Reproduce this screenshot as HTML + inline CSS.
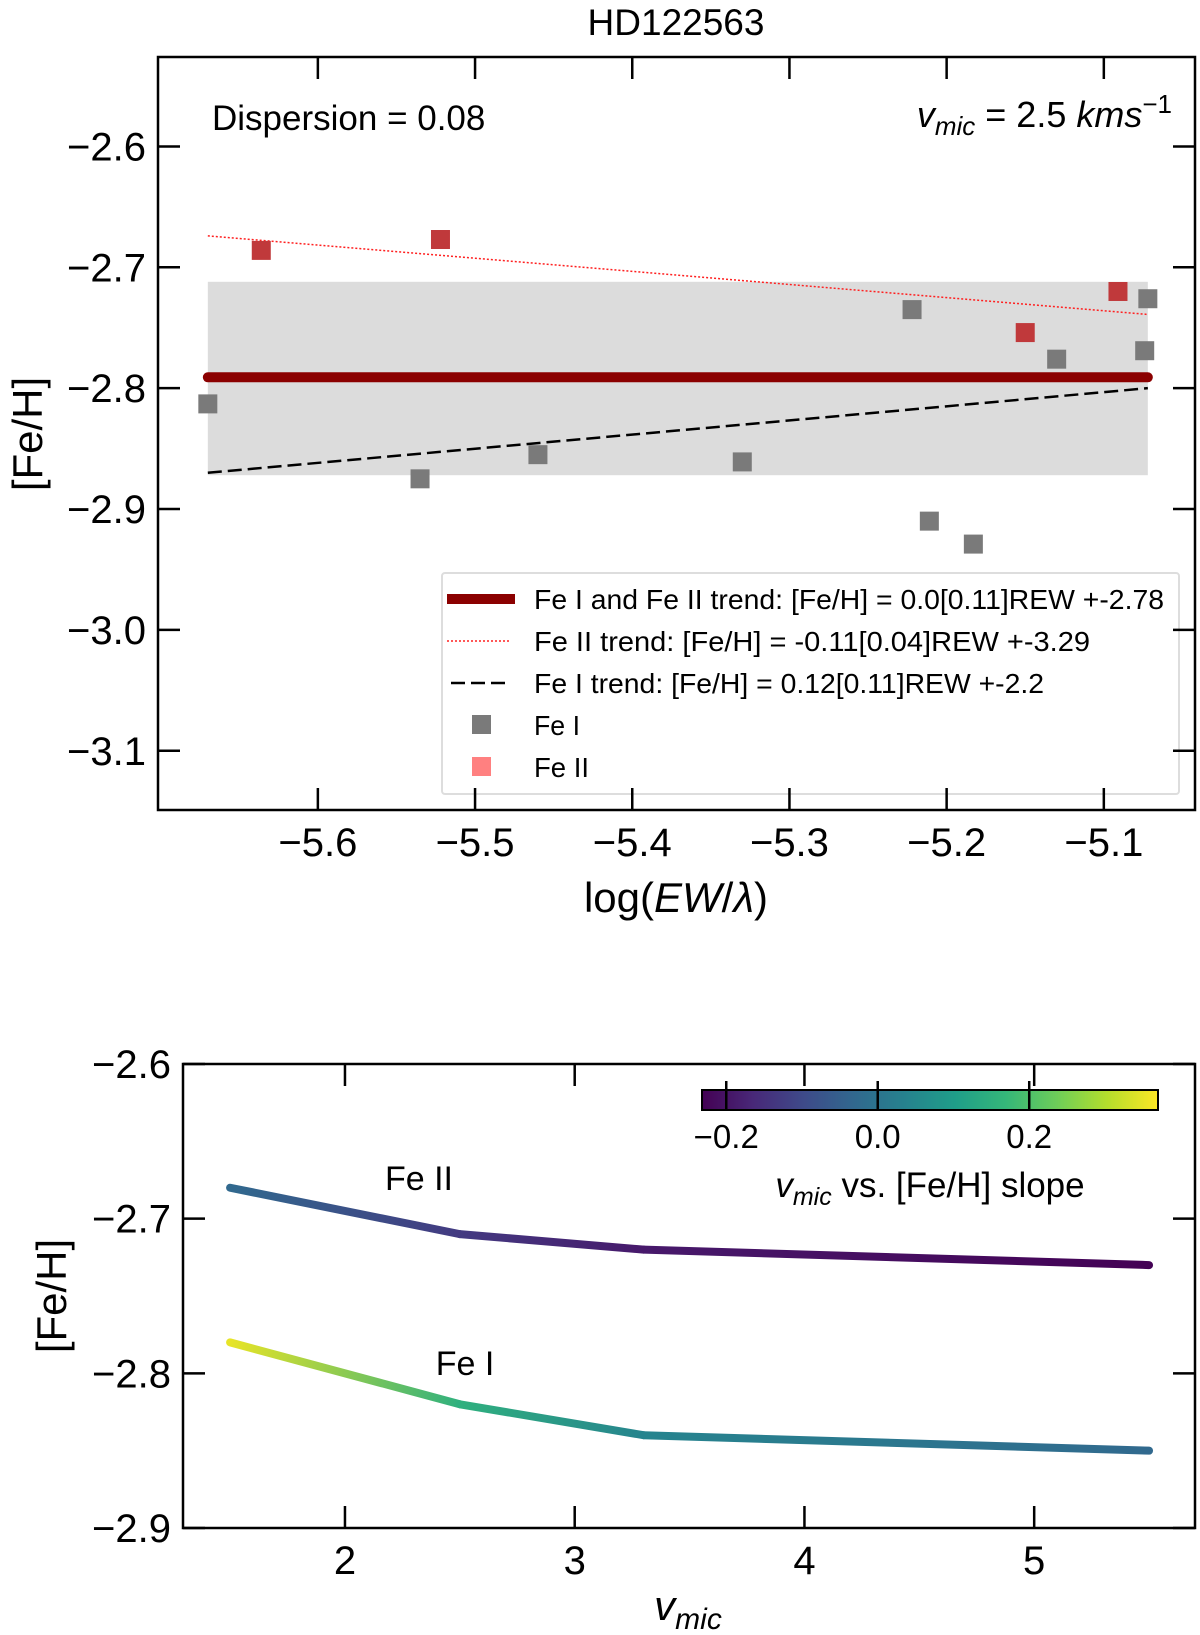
<!DOCTYPE html>
<html><head><meta charset="utf-8"><style>
html,body{margin:0;padding:0;background:#fff;}
svg{display:block;font-family:"Liberation Sans","DejaVu Sans",sans-serif;}
</style></head><body>
<svg id="fig" width="1200" height="1635" viewBox="0 0 1200 1635" xmlns="http://www.w3.org/2000/svg">
<defs id="defs"></defs>
</svg>
<script>
// ---------- Top panel data ----------
const feIx = [-5.67, -5.535, -5.46, -5.33, -5.222, -5.211, -5.183, -5.13, -5.072, -5.074];
const feIy = [-2.813, -2.875, -2.855, -2.861, -2.735, -2.910, -2.929, -2.776, -2.726, -2.769];
const feIIx = [-5.636, -5.522, -5.150, -5.091];
const feIIy = [-2.686, -2.677, -2.754, -2.720];
const trendX = [-5.67, -5.072];
const trendAll = [-2.791, -2.791];
const trendFeII = [-2.674, -2.739];
const trendFeI = [-2.870, -2.800];
const bandY = [-2.712, -2.872];
const topXTicks = [-5.6, -5.5, -5.4, -5.3, -5.2, -5.1];
const topYTicks = [-2.6, -2.7, -2.8, -2.9, -3.0, -3.1];
// ---------- Bottom panel data ----------
const vmic = [1.5, 2.5, 3.3, 5.5];
const feIIcurve = [-2.68, -2.71, -2.72, -2.73];
const feIcurve = [-2.78, -2.82, -2.84, -2.85];
const feIIslope = [-0.03, -0.13, -0.19, -0.23];
const feIslope = [0.35, 0.15, 0.04, -0.03];
const botXTicks = [2, 3, 4, 5];
const botYTicks = [-2.6, -2.7, -2.8, -2.9];
const cbTicks = [-0.2, 0.0, 0.2];

const NS = "http://www.w3.org/2000/svg";
const svg = document.getElementById('fig');
const defs = document.getElementById('defs');
function mk(tag, attrs, parent) {
  const e = document.createElementNS(NS, tag);
  for (const k in attrs) e.setAttribute(k, attrs[k]);
  (parent || svg).appendChild(e);
  return e;
}
function fmt(v, d) { const s = Math.abs(v).toFixed(d); return (v < 0 ? '\u2212' : '') + s; }

const vir = [[68,1,84],[72,40,120],[62,74,137],[49,104,142],[38,130,142],[31,158,137],[53,183,121],[109,205,89],[180,222,44],[253,231,37]];
function viridis(t) {
  t = Math.max(0, Math.min(1, t));
  const p = t * (vir.length - 1), i = Math.min(Math.floor(p), vir.length - 2), f = p - i;
  const c = vir[i].map((a, k) => Math.round(a + (vir[i + 1][k] - a) * f));
  return 'rgb(' + c.join(',') + ')';
}
const cbMin = -0.232, cbMax = 0.37;
function slopeColor(s) { return viridis((s - cbMin) / (cbMax - cbMin)); }

// ---------- Top axes ----------
const T = {l: 158, r: 1195, t: 57, b: 810, x0: -5.7017, x1: -5.042, y0: -3.149, y1: -2.526};
const tx = v => T.l + (v - T.x0) / (T.x1 - T.x0) * (T.r - T.l);
const ty = v => T.b - (v - T.y0) / (T.y1 - T.y0) * (T.b - T.t);

let e = mk('text', {x: 676, y: 35, 'font-size': 37, 'text-anchor': 'middle'});
e.textContent = 'HD122563';



e = mk('rect', {x: tx(trendX[0]), y: ty(bandY[0]), width: tx(trendX[1]) - tx(trendX[0]), height: ty(bandY[1]) - ty(bandY[0]), fill: '#dcdcdc'});



e = mk('line', {x1: tx(trendX[0]), x2: tx(trendX[1]), y1: ty(trendFeII[0]), y2: ty(trendFeII[1]), stroke: '#ff2020', 'stroke-width': 1.5, 'stroke-dasharray': '2,2'});


e = mk('line', {x1: tx(trendX[0]), x2: tx(trendX[1]), y1: ty(trendFeI[0]), y2: ty(trendFeI[1]), stroke: '#000', 'stroke-width': 2.5, 'stroke-dasharray': '14,6'});


e = mk('line', {x1: tx(trendX[0]), x2: tx(trendX[1]), y1: ty(trendAll[0]), y2: ty(trendAll[1]), stroke: '#8b0000', 'stroke-width': 10, 'stroke-linecap': 'round'});



const ms = 19;
feIx.forEach((x, i) => {
  const r = mk('rect', {x: tx(x) - ms / 2, y: ty(feIy[i]) - ms / 2, width: ms, height: ms, fill: '#7a7a7a'});
  
  
});
feIIx.forEach((x, i) => {
  const r = mk('rect', {x: tx(x) - ms / 2, y: ty(feIIy[i]) - ms / 2, width: ms, height: ms, fill: '#c0393b'});
  
  
});

// legend
const lg = mk('g', {});


mk('rect', {x: 442, y: 573, width: 737, height: 221, fill: 'rgba(255,255,255,0.8)', stroke: '#ddd', 'stroke-width': 2, rx: 3}, lg);
const rows = [
  ['line', 'Fe I and Fe II trend:  [Fe/H] = 0.0[0.11]REW +-2.78', 'legend-entry-combined-trend'],
  ['dot', 'Fe II trend:  [Fe/H] = -0.11[0.04]REW +-3.29', 'legend-entry-fe-ii-trend'],
  ['dash', 'Fe I trend: [Fe/H] = 0.12[0.11]REW +-2.2', 'legend-entry-fe-i-trend'],
  ['gray', 'Fe I', 'legend-entry-fe-i'],
  ['pink', 'Fe II', 'legend-entry-fe-ii']
];
const rowY = [599, 641, 683, 725, 767];
rows.forEach((r, i) => {
  const g = mk('g', {}, lg);
  
  
  const y = rowY[i];
  if (r[0] === 'line') mk('line', {x1: 447, x2: 515, y1: y, y2: y, stroke: '#8b0000', 'stroke-width': 10}, g);
  if (r[0] === 'dot') mk('line', {x1: 447, x2: 509, y1: y, y2: y, stroke: '#ff2020', 'stroke-width': 1.5, 'stroke-dasharray': '2,2'}, g);
  if (r[0] === 'dash') mk('line', {x1: 451, x2: 509, y1: y, y2: y, stroke: '#000', 'stroke-width': 2.5, 'stroke-dasharray': '14,6'}, g);
  if (r[0] === 'gray') mk('rect', {x: 472, y: y - 10, width: 19, height: 19, fill: '#7a7a7a'}, g);
  if (r[0] === 'pink') mk('rect', {x: 472, y: y - 10, width: 19, height: 19, fill: '#ff8080'}, g);
  const t = mk('text', {x: 534, y: y + 10, 'font-size': 28}, g);
  t.setAttribute('textLength', [630, 556, 510, 46, 55][i]);
  t.setAttribute('lengthAdjust', 'spacingAndGlyphs');
  t.textContent = r[1];
});

// top frame & ticks
e = mk('rect', {x: T.l, y: T.t, width: T.r - T.l, height: T.b - T.t, fill: 'none', stroke: '#000', 'stroke-width': 2.5});


topXTicks.forEach(v => {
  const x = tx(v);
  mk('line', {x1: x, x2: x, y1: T.b, y2: T.b - 22, stroke: '#000', 'stroke-width': 2.5});
  mk('line', {x1: x, x2: x, y1: T.t, y2: T.t + 22, stroke: '#000', 'stroke-width': 2.5});
  const t = mk('text', {x: x, y: T.b + 46, 'font-size': 40, 'text-anchor': 'middle'});
  t.textContent = fmt(v, 1);
  
  
});
topYTicks.forEach(v => {
  const y = ty(v);
  mk('line', {x1: T.l, x2: T.l + 22, y1: y, y2: y, stroke: '#000', 'stroke-width': 2.5});
  mk('line', {x1: T.r, x2: T.r - 22, y1: y, y2: y, stroke: '#000', 'stroke-width': 2.5});
  const t = mk('text', {x: T.l - 12, y: y + 14, 'font-size': 40, 'text-anchor': 'end'});
  t.textContent = fmt(v, 1);
  
  
});
e = mk('text', {x: 212, y: 130, 'font-size': 35});
e.textContent = 'Dispersion = 0.08';


e = mk('text', {x: 1172, y: 127, 'font-size': 36, 'text-anchor': 'end'});
e.innerHTML = '<tspan font-style="italic">v</tspan><tspan font-style="italic" font-size="26" dy="8">mic</tspan><tspan dy="-8"> = 2.5 </tspan><tspan font-style="italic">kms</tspan><tspan font-size="26" dy="-14">\u22121</tspan>';


e = mk('text', {x: 676, y: 912, 'font-size': 42, 'text-anchor': 'middle'});
e.innerHTML = 'log(<tspan font-style="italic">EW</tspan>/<tspan font-style="italic">\u03bb</tspan>)';


e = mk('text', {x: 0, y: 0, 'font-size': 42, 'text-anchor': 'middle', transform: 'translate(42,434) rotate(-90)'});
e.textContent = '[Fe/H]';



// ---------- Bottom axes ----------
const B = {l: 183, r: 1195, t: 1064, b: 1528, x0: 1.295, x1: 5.70, y0: -2.9, y1: -2.6};
const bx = v => B.l + (v - B.x0) / (B.x1 - B.x0) * (B.r - B.l);
const by = v => B.b - (v - B.y0) / (B.y1 - B.y0) * (B.b - B.t);

let gid = 0;
function drawCurve(ys, slopes, name) {
  const g = mk('g', {});
  
  
  for (let i = 0; i < vmic.length - 1; i++) {
    const x1 = bx(vmic[i]), x2 = bx(vmic[i + 1]), y1 = by(ys[i]), y2 = by(ys[i + 1]);
    const id = 'gr' + (gid++);
    const lgd = mk('linearGradient', {id: id, gradientUnits: 'userSpaceOnUse', x1: x1, y1: y1, x2: x2, y2: y2}, defs);
    mk('stop', {offset: 0, 'stop-color': slopeColor(slopes[i])}, lgd);
    mk('stop', {offset: 1, 'stop-color': slopeColor(slopes[i + 1])}, lgd);
    mk('line', {x1: x1, y1: y1, x2: x2, y2: y2, stroke: 'url(#' + id + ')', 'stroke-width': 8, 'stroke-linecap': 'round'}, g);
  }
}
drawCurve(feIIcurve, feIIslope, 'fe-ii-vmic-curve');
drawCurve(feIcurve, feIslope, 'fe-i-vmic-curve');

e = mk('text', {x: 419, y: 1190, 'font-size': 34, 'text-anchor': 'middle'});
e.textContent = 'Fe II';


e = mk('text', {x: 465, y: 1375, 'font-size': 34, 'text-anchor': 'middle'});
e.textContent = 'Fe I';



e = mk('rect', {x: B.l, y: B.t, width: B.r - B.l, height: B.b - B.t, fill: 'none', stroke: '#000', 'stroke-width': 2.5});


botXTicks.forEach(v => {
  const x = bx(v);
  mk('line', {x1: x, x2: x, y1: B.b, y2: B.b - 22, stroke: '#000', 'stroke-width': 2.5});
  mk('line', {x1: x, x2: x, y1: B.t, y2: B.t + 22, stroke: '#000', 'stroke-width': 2.5});
  const t = mk('text', {x: x, y: B.b + 46, 'font-size': 40, 'text-anchor': 'middle'});
  t.textContent = String(v);
  
  
});
botYTicks.forEach(v => {
  const y = by(v);
  mk('line', {x1: B.l, x2: B.l + 22, y1: y, y2: y, stroke: '#000', 'stroke-width': 2.5});
  mk('line', {x1: B.r, x2: B.r - 22, y1: y, y2: y, stroke: '#000', 'stroke-width': 2.5});
  const t = mk('text', {x: B.l - 12, y: y + 14, 'font-size': 40, 'text-anchor': 'end'});
  t.textContent = fmt(v, 1);
  
  
});
e = mk('text', {x: 0, y: 0, 'font-size': 42, 'text-anchor': 'middle', transform: 'translate(66,1296) rotate(-90)'});
e.textContent = '[Fe/H]';


e = mk('text', {x: 688, y: 1620, 'font-size': 42, 'text-anchor': 'middle'});
e.innerHTML = '<tspan font-style="italic">v</tspan><tspan font-style="italic" font-size="30" dy="9">mic</tspan>';



// colorbar
const CB = {l: 702, r: 1158, t: 1090, b: 1110};
const cx = v => CB.l + (v - cbMin) / (cbMax - cbMin) * (CB.r - CB.l);
const cg = mk('linearGradient', {id: 'cbg', x1: 0, x2: 1, y1: 0, y2: 0}, defs);
vir.forEach((c, i) => mk('stop', {offset: i / (vir.length - 1), 'stop-color': 'rgb(' + c.join(',') + ')'}, cg));
e = mk('rect', {x: CB.l, y: CB.t, width: CB.r - CB.l, height: CB.b - CB.t, fill: 'url(#cbg)', stroke: '#000', 'stroke-width': 2});


cbTicks.forEach(v => {
  const x = cx(v);
  mk('line', {x1: x, x2: x, y1: CB.t - 9, y2: CB.b, stroke: '#000', 'stroke-width': 2.5});
  const t = mk('text', {x: x, y: CB.b + 38, 'font-size': 33, 'text-anchor': 'middle'});
  t.textContent = fmt(v, 1);
  
  
});
e = mk('text', {x: 930, y: 1197, 'font-size': 35, 'text-anchor': 'middle'});
e.innerHTML = '<tspan font-style="italic">v</tspan><tspan font-style="italic" font-size="25" dy="8">mic</tspan><tspan dy="-8"> vs. [Fe/H] slope</tspan>';


</script>
</body></html>
